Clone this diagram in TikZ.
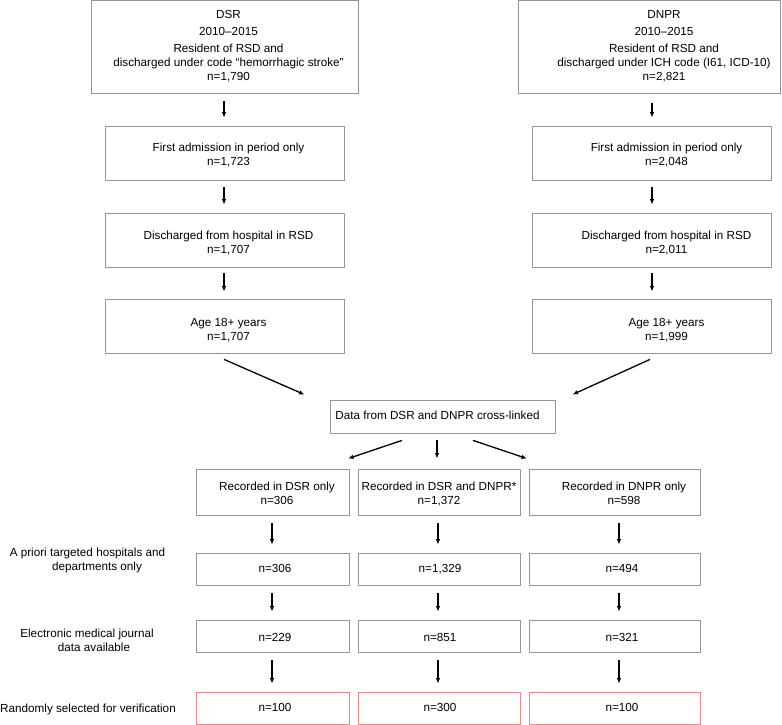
\documentclass[tikz,border=0pt]{standalone}
\usepackage{fontspec}
\setmainfont{Liberation Sans}
\usetikzlibrary{calc,arrows.meta}
\definecolor{boxgray}{RGB}{150,150,150}
\definecolor{boxred}{RGB}{230,140,140}
\newcommand{\shiftbox}[3]{\raisebox{-#2}[\height][\depth]{\hspace*{#1}\begin{tabular}{@{}c@{}}#3\end{tabular}\hspace*{-#1}}}
\begin{document}
\begin{tikzpicture}[x=1pt,y=-1pt,
  base/.style={inner sep=0pt, align=center, font=\fontsize{11.7}{14}\selectfont},
  box/.style={base, draw=boxgray, line width=0.8pt},
  redbox/.style={base, draw=boxred, line width=0.8pt},
  sz/.style 2 args={minimum width=#1pt, minimum height=#2pt},
  lbl/.style={base},
  arr/.style={line width=1.3pt, -{Latex[length=5.5pt,width=4.5pt]}}
]
\useasboundingbox (0,0) rectangle (782,725);

% left column
\node[box, sz={267}{93}] (dsr) at (224.5,47)
  {\shiftbox{4pt}{0pt}{DSR\\[3pt]2010–2015\\[3pt]Resident of RSD and\\discharged under code “hemorrhagic stroke”\\n=1,790}};
\node[box, sz={239}{54}] (l2) at (224.5,153) {\shiftbox{4pt}{3pt}{First admission in period only\\n=1,723}};
\node[box, sz={239}{54}] (l3) at (224.5,240) {\shiftbox{4pt}{4pt}{Discharged from hospital in RSD\\n=1,707}};
\node[box, sz={239}{54}] (l4) at (224.5,326) {\shiftbox{4pt}{5pt}{Age 18+ years\\n=1,707}};

% right column
\node[box, sz={262}{93}] (dnpr) at (649,47)
  {\shiftbox{15pt}{0pt}{DNPR\\[3pt]2010–2015\\[3pt]Resident of RSD and\\discharged under ICH code (I61, ICD-10)\\n=2,821}};
\node[box, sz={239}{54}] (r2) at (651.5,153) {\shiftbox{15pt}{3pt}{First admission in period only\\n=2,048}};
\node[box, sz={239}{54}] (r3) at (651.5,240) {\shiftbox{15pt}{4pt}{Discharged from hospital in RSD\\n=2,011}};
\node[box, sz={239}{54}] (r4) at (651.5,326) {\shiftbox{15pt}{5pt}{Age 18+ years\\n=1,999}};

% cross-linked
\node[box, sz={225}{33}] (x) at (442.5,416.5) {\shiftbox{-5pt}{0pt}{Data from DSR and DNPR cross-linked}};

% recorded
\node[box, sz={153}{46}] (a1) at (272.5,492) {\shiftbox{4.5pt}{2.5pt}{Recorded in DSR only\\n=306}};
\node[box, sz={162}{46}] (b1) at (439,492) {\shiftbox{0pt}{2.5pt}{Recorded in DSR and DNPR*\\n=1,372}};
\node[box, sz={171}{46}] (c1) at (614.5,492) {\shiftbox{9.5pt}{2.5pt}{Recorded in DNPR only\\n=598}};

% a priori
\node[box, sz={153}{32}] (a2) at (272.5,569) {\shiftbox{2.5pt}{1pt}{n=306}};
\node[box, sz={162}{32}] (b2) at (439,569) {\shiftbox{1pt}{1pt}{n=1,329}};
\node[box, sz={171}{32}] (c2) at (614.5,569) {\shiftbox{7.5pt}{1pt}{n=494}};

% electronic
\node[box, sz={153}{32}] (a3) at (272.5,636) {\shiftbox{2.5pt}{3pt}{n=229}};
\node[box, sz={162}{32}] (b3) at (439,636) {\shiftbox{1pt}{3pt}{n=851}};
\node[box, sz={171}{32}] (c3) at (614.5,636) {\shiftbox{7.5pt}{3pt}{n=321}};

% random
\node[redbox, sz={153}{32}] (a4) at (272.5,708) {\shiftbox{2.5pt}{1pt}{n=100}};
\node[redbox, sz={162}{32}] (b4) at (439,708) {\shiftbox{1pt}{1pt}{n=300}};
\node[redbox, sz={171}{32}] (c4) at (614.5,708) {\shiftbox{7.5pt}{1pt}{n=100}};

% side labels
\node[lbl] (s1) at (90,560) {A priori targeted hospitals and\hspace*{5pt}\\\hspace*{14pt}departments only};
\node[lbl] (s2) at (90,640) {Electronic medical journal\hspace*{6pt}\\\hspace*{8pt}data available};
\node[lbl] (s3) at (88,709) {Randomly selected for verification};

% vertical arrows, left column
\draw[arr] ($(dsr.south)+(-0.5,7)$) -- ($(l2.north)+(-0.5,-8)$);
\draw[arr] ($(l2.south)+(-0.5,7)$) -- ($(l3.north)+(-0.5,-8)$);
\draw[arr] ($(l3.south)+(-0.5,6)$) -- ($(l4.north)+(-0.5,-7)$);
% right column
\draw[arr] ($(dnpr.south)+(3,9)$) -- ($(r2.north)+(0.5,-8)$);
\draw[arr] ($(r2.south)+(0.5,7)$) -- ($(r3.north)+(0.5,-8)$);
\draw[arr] ($(r3.south)+(0.5,6)$) -- ($(r4.north)+(0.5,-7)$);

% diagonals into cross box
\draw[arr] ($(l4.south)+(-0.5,6)$) -- ($(x.north west)+(-25,-5)$);
\draw[arr] ($(r4.south)+(-1.5,6)$) -- ($(x.north east)+(17,-5)$);

% out of cross box
\draw[arr] ($(x.south)+(-40.5,7)$) -- ($(a1.north)+(75.5,-10)$);
\draw[arr] ($(x.south)+(-5.5,7)$) -- ($(b1.north)+(-2,-10)$);
\draw[arr] ($(x.south)+(30.5,7)$) -- ($(c1.north)+(-87.5,-10)$);

% column arrows
\foreach \u/\v in {a1/a2,a2/a3,a3/a4}{
  \draw[arr] ($(\u.south)+(-0.5,8)$) -- ($(\v.north)+(-0.5,-8)$);
}
\foreach \u/\v in {b1/b2,b2/b3,b3/b4}{
  \draw[arr] ($(\u.south)+(-1,8)$) -- ($(\v.north)+(-1,-8)$);
}
\foreach \u/\v in {c1/c2,c2/c3,c3/c4}{
  \draw[arr] ($(\u.south)+(4.5,8)$) -- ($(\v.north)+(4.5,-8)$);
}
\end{tikzpicture}
\end{document}
